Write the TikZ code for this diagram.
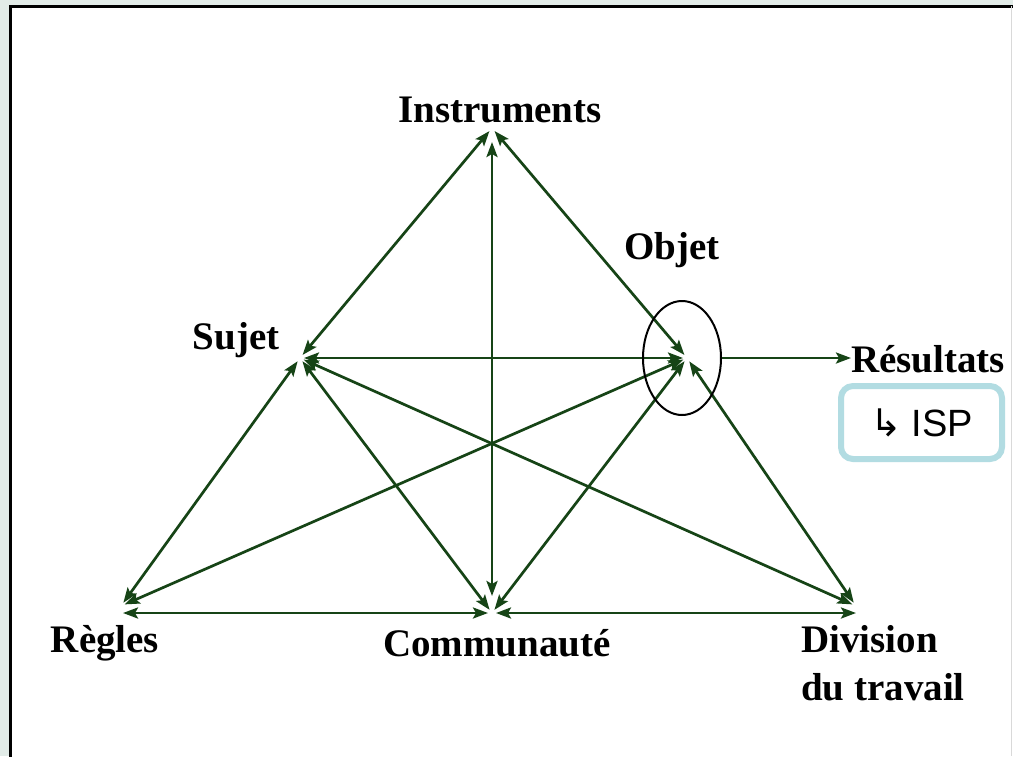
\documentclass[tikz,border=0pt]{standalone}
\usepackage{fontspec}
\setmainfont{Liberation Serif}
\newfontfamily\arialf{Liberation Sans}
\newfontfamily\dejavu{DejaVu Sans}
\usetikzlibrary{arrows.meta,shapes.geometric}
\definecolor{arrowgreen}{RGB}{22,68,22}
\definecolor{ispblue}{RGB}{178,220,226}
\definecolor{bgstrip}{RGB}{226,236,232}
\begin{document}
\begin{tikzpicture}[x=1pt,y=-1pt,
  tip/.tip={Stealth[length=15pt,width=11pt,inset=3pt]},
  link/.style={draw=arrowgreen, line width=2.7pt, tip-tip, shorten <=4pt, shorten >=4pt},
  lbl/.style={font=\fontsize{39}{48}\selectfont\bfseries, inner sep=0pt, anchor=base}]
\useasboundingbox (0,0) rectangle (1013,756);
\fill[bgstrip] (0,0) rectangle (1013,756);
\fill[white] (10,6) rectangle (1013,756);
\draw[line width=3pt] (10,760) -- (10,6) -- (1013,6);
\draw[gray!30, line width=1pt] (1011.5,6) -- (1011.5,756);

\coordinate (I) at (492,128);
\coordinate (S) at (300,358);
\coordinate (O) at (687,358);
\coordinate (R) at (121,606);
\coordinate (C) at (492,613);
\coordinate (D) at (856,606);

\draw[link] (I) -- (S);
\draw[link, shorten <=14pt, shorten >=17pt] (I) -- (C);
\draw[link] (I) -- (O);
\draw[link] (S) -- (O);
\draw[link] (S) -- (R);
\draw[link] (S) -- (C);
\draw[link] (S) -- (D);
\draw[link] (O) -- (R);
\draw[link] (O) -- (C);
\draw[link] (O) -- (D);
\draw[link, shorten <=2pt] ([yshift=-7pt]R) -- (C);
\draw[link, shorten >=0pt] (C) -- ([yshift=-7pt]D);

\node[draw, line width=2pt, ellipse, minimum width=78pt, minimum height=114pt, inner sep=0pt] (ell) at (682,358) {};

\node[lbl] (ins) at (500,122) {Instruments};
\node[lbl] (obj) at (672,259) {Objet};
\node[lbl] (suj) at (236,349) {Sujet};
\node[lbl, anchor=base west] (res) at (851,372) {Résultats};
\node[lbl] (reg) at (105,652) {Règles};
\node[lbl] (com) at (497,656) {Communauté};
\node[lbl, anchor=base west, align=left] (div) at (801,700) {Division\\du travail};

\draw[arrowgreen, line width=2.7pt, -tip] (ell.east) -- (ell.east -| res.west);

\node[draw=ispblue, line width=6pt, rounded corners=12pt, minimum width=161pt, minimum height=73pt, inner sep=0pt,
  font=\fontsize{38}{44}\selectfont] (isp) at (921.5,422.5) {{\dejavu ↳} {\arialf ISP}};
\end{tikzpicture}
\end{document}
